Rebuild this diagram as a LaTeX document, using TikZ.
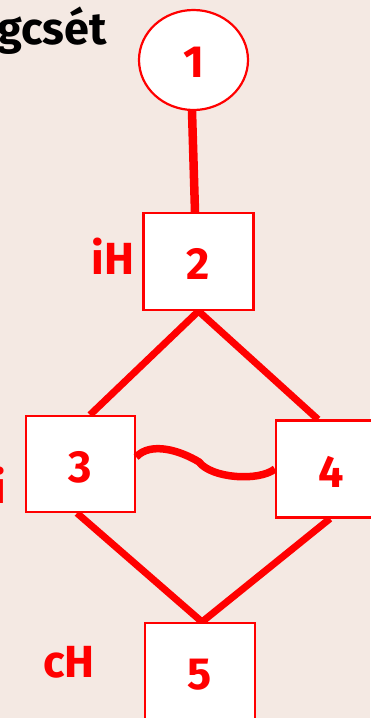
\documentclass[tikz,border=0pt]{standalone}
\usepackage{fontspec}
\setmainfont{Fira Sans}
\usetikzlibrary{shapes.geometric,backgrounds}
\definecolor{bgc}{RGB}{244,233,227}
\definecolor{redc}{RGB}{255,0,0}
\tikzset{
  bigfont/.style={font=\fontsize{45}{54}\selectfont\bfseries},
  numbox/.style={draw=redc, line width=2.2pt, fill=white, rectangle, bigfont, text=redc,
    minimum width=110pt, minimum height=97pt, inner sep=0pt, text height=36pt, text depth=0pt},
  numcirc/.style={draw=redc, line width=2.2pt, fill=white, ellipse, bigfont, text=redc,
    minimum width=109pt, minimum height=100pt, inner sep=0pt, text height=34pt, text depth=0pt},
  conn/.style={draw=redc, line width=7pt},
  lab/.style={bigfont, text=redc, inner sep=0pt, anchor=base},
  ttl/.style={bigfont, text=black, inner sep=0pt, anchor=base east}
}
\begin{document}
\begin{tikzpicture}[x=1pt,y=-1pt]
\useasboundingbox (0,0) rectangle (370,718);
\node[numcirc] (c1) at (193.5,60) {1};
\node[numbox] (b2) at (198.5,261.5) {2};
\node[numbox, minimum width=109pt, minimum height=96pt] (b3) at (80.5,464) {3};
\node[numbox] (b4) at (331,469) {4};
\node[numbox] (b5) at (200,671.5) {5};
\node[ttl] (title) at (107,44) {gcsét};
\node[lab] (lab2) at (113,274) {iH};
\node[lab, anchor=base east] (lab3) at (6,503) {i};
\node[lab] (lab5) at (69,677) {cH};
\begin{pgfonlayer}{background}
\fill[bgc] (0,0) rectangle (370,718);
\draw[conn, line width=8.5pt] ([xshift=-1.5pt]c1.south) -- ([xshift=-3.5pt]b2.north);
\draw[conn] (b2.south) -- ([xshift=9.5pt]b3.north);
\draw[conn] (b2.south) -- ([xshift=-13pt]b4.north);
\draw[conn] ([xshift=-3.5pt]b3.south) -- ([xshift=2pt]b5.north);
\draw[conn] ([xshift=-1pt]b4.south) -- ([xshift=2pt]b5.north);
\end{pgfonlayer}
\draw[conn, line width=7.5pt] ([yshift=7pt]b3.east) .. controls +(15,-16) and +(-18,-11) .. ([xshift=63pt,yshift=2pt]b3.east) coordinate (mid)
  .. controls +(12,16) and +(-17,13) .. ([yshift=0pt]b4.west);
\end{tikzpicture}
\end{document}
